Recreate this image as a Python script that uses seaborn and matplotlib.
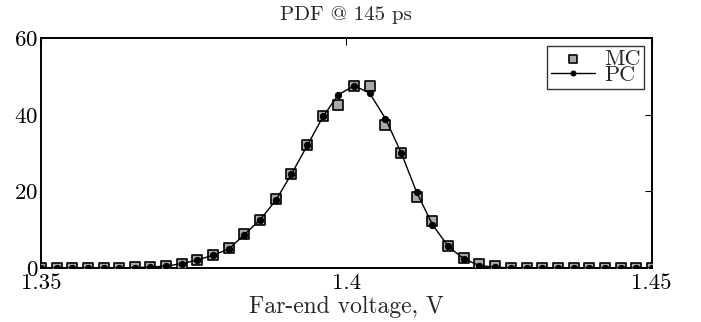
import numpy as np
import pandas as pd
import matplotlib
matplotlib.use("Agg")
import matplotlib.pyplot as plt
import seaborn as sns

voltage = [1.3500, 1.3526, 1.3551, 1.3577, 1.3603, 1.3628, 1.3654, 1.3679, 1.3705, 1.3731,
           1.3756, 1.3782, 1.3808, 1.3833, 1.3859, 1.3885, 1.3910, 1.3936, 1.3962, 1.3987,
           1.4013, 1.4038, 1.4064, 1.4090, 1.4115, 1.4141, 1.4167, 1.4192, 1.4218, 1.4244,
           1.4269, 1.4295, 1.4321, 1.4346, 1.4372, 1.4397, 1.4423, 1.4449, 1.4474, 1.4500]
mc_pdf = [0, 0, 0, 0, 0, 0, 0.2, 0.3, 0.5, 1.0,
          2.0, 3.5, 5.2, 8.8, 12.5, 17.9, 24.6, 32.1, 39.8, 42.7,
          47.6, 47.6, 37.3, 30.1, 18.6, 12.3, 5.7, 2.6, 1.0, 0.5,
          0, 0, 0, 0, 0, 0, 0, 0, 0, 0]
pc_pdf = [0, 0, 0, 0, 0, 0, 0.1, 0.2, 0.5, 1.1,
          2.1, 3.3, 5.0, 8.7, 12.6, 17.8, 24.5, 32.0, 39.6, 45.3,
          47.6, 45.7, 39.0, 30.0, 19.8, 11.3, 5.6, 2.4, 0.6, 0.2,
          0, 0, 0, 0, 0, 0, 0, 0, 0, 0]
x_ticks = [1.35, 1.40, 1.45]
x_tick_labels = ["1.35", "1.4", "1.45"]
y_ticks = [0, 20, 40, 60]
title = "PDF @ 145 ps"
xlabel = "Far-end voltage, V"

df = pd.DataFrame({"v": voltage, "MC": mc_pdf, "PC": pc_pdf})

sns.set_style("white")
plt.rcParams["font.family"] = ["cmr10", "DejaVu Serif"]
plt.rcParams["axes.formatter.use_mathtext"] = True
plt.rcParams["mathtext.fontset"] = "cm"

fig = plt.figure(figsize=(7.01, 3.22), dpi=100)
ax = fig.add_axes([0.0585, 0.168, 0.8712, 0.713])

sns.scatterplot(data=df, x="v", y="MC", ax=ax, marker="s", s=60, color="#a9a9a9",
                edgecolor="black", linewidth=1.2, label="MC", zorder=3)
sns.lineplot(data=df, x="v", y="PC", ax=ax, color="black", linewidth=1.0, marker="o",
             markersize=4.5, markeredgecolor="black", markerfacecolor="black",
             label="PC", zorder=4)

ax.set_xlim(1.35, 1.45)
ax.set_ylim(0, 60)
ax.set_xticks(x_ticks)
ax.set_xticklabels(x_tick_labels)
ax.set_yticks(y_ticks)
ax.tick_params(direction="in", length=5, width=0.8, labelsize=16.5, pad=2,
               top=True, right=True, colors="black")
ax.tick_params(axis="x", pad=4)
for s in ax.spines.values():
    s.set_color("black")
    s.set_linewidth(1.4)

ax.set_xlabel(xlabel, fontsize=17, labelpad=2)
ax.set_ylabel("")
ax.set_title(title, fontsize=15, pad=13)

leg = ax.legend(loc="upper right", fontsize=16, frameon=True, fancybox=False,
                handlelength=2.0, handletextpad=0.4, borderpad=0.15, labelspacing=-0.15,
                borderaxespad=0.35, edgecolor="black", markerscale=0.8)
leg.get_frame().set_linewidth(1.0)

fig.savefig("out.png", dpi=100)
